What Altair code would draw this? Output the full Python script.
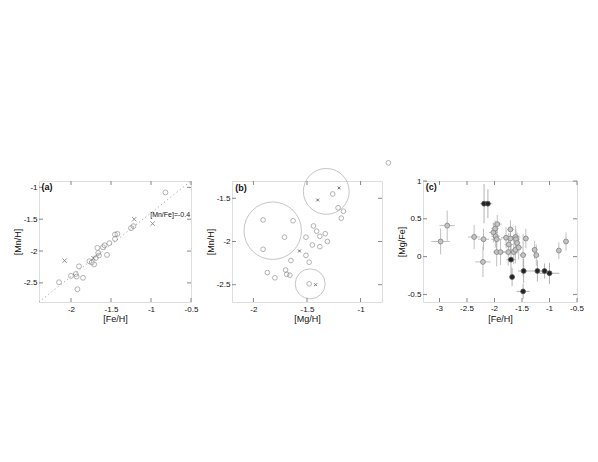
import altair as alt
import pandas as pd

# ---------------- Panel (a): [Mn/H] vs [Fe/H] ----------------
a_circ_fe = [-0.82, -1.22, -1.25, -1.42, -1.45, -1.45, -1.52, -1.58, -1.60, -1.67,
             -1.66, -1.65, -1.55, -1.69, -1.77, -1.74, -1.71, -1.90, -2.00, -1.94,
             -1.93, -1.85, -2.15, -1.92]
a_circ_mn = [-1.08, -1.61, -1.64, -1.73, -1.74, -1.81, -1.875, -1.91, -1.94, -1.95,
             -2.03, -2.07, -2.06, -2.11, -2.16, -2.18, -2.21, -2.24, -2.39, -2.36,
             -2.40, -2.42, -2.49, -2.60]
a_x_fe = [-2.08, -1.21, -0.98, -1.72]
a_x_mn = [-2.15, -1.50, -1.57, -2.11]
mnfe_line = -0.4
line_fe = [-2.4, -0.5]
a_xticks = [-2, -1.5, -1, -0.5]
a_yticks = [-1, -1.5, -2, -2.5]

# ---------------- Panel (b): [Mn/H] vs [Mg/H] ----------------
b_circ_mg = [-1.91, -1.63, -1.71, -1.91, -1.26, -1.21, -1.16, -1.18, -1.44, -1.41,
             -1.38, -1.33, -1.51, -1.31, -1.45, -1.38, -1.51, -1.48, -1.65, -1.70,
             -1.69, -1.66, -1.87, -1.80, -1.48, -0.74]
b_circ_mn = [-1.75, -1.76, -1.95, -2.09, -1.45, -1.61, -1.65, -1.73, -1.82, -1.88,
             -1.94, -1.91, -1.95, -2.00, -2.04, -2.06, -2.16, -2.24, -2.22, -2.33,
             -2.38, -2.39, -2.36, -2.42, -2.49, -1.09]
b_x_mg = [-1.20, -1.40, -1.57, -1.42]
b_x_mn = [-1.38, -1.52, -2.11, -2.50]
ring_mg = [-1.82, -1.32, -1.47]
ring_mn = [-1.875, -1.42, -2.49]
b_xticks = [-2, -1.5, -1]
b_yticks = [-1.5, -2, -2.5]

# ---------------- Panel (c): [Mg/Fe] vs [Fe/H] ----------------
c_gray_fe = [-2.98, -2.86, -2.37, -2.20, -2.21, -2.02, -1.99, -1.95, -1.98, -1.96,
             -1.96, -1.89, -1.79, -1.71, -1.74, -1.71, -1.75, -1.65, -1.62, -1.61,
             -1.62, -1.59, -1.56, -1.48, -1.43, -1.27, -1.24, -0.83, -0.70]
c_gray_mgfe = [0.20, 0.41, 0.26, 0.23, -0.07, 0.32, 0.37, 0.43, 0.27, 0.23,
               0.06, 0.06, 0.25, 0.24, 0.16, 0.36, 0.06, 0.06, 0.26, 0.23,
               0.09, 0.18, 0.12, 0.02, 0.24, 0.09, 0.02, 0.08, 0.20]
c_gray_xerr = [0.17, 0.14, 0.11, 0.10, 0.14, 0.08, 0.07, 0.08, 0.08, 0.10,
               0.07, 0.08, 0.09, 0.10, 0.08, 0.06, 0.10, 0.07, 0.09, 0.07,
               0.08, 0.06, 0.07, 0.06, 0.05, 0.05, 0.05, 0.04, 0.05]
c_gray_yerr = [0.17, 0.20, 0.16, 0.14, 0.20, 0.13, 0.11, 0.12, 0.15, 0.14,
               0.19, 0.17, 0.14, 0.16, 0.15, 0.12, 0.18, 0.16, 0.15, 0.13,
               0.18, 0.14, 0.16, 0.28, 0.13, 0.12, 0.14, 0.11, 0.12]
c_black_fe = [-2.19, -2.12, -1.70, -1.68, -1.47, -1.22, -1.09, -1.00, -1.48]
c_black_mgfe = [0.70, 0.70, -0.04, -0.27, -0.19, -0.19, -0.19, -0.22, -0.46]
c_black_xerr = [0.07, 0.08, 0.08, 0.04, 0.10, 0.15, 0.06, 0.18, 0.12]
c_black_yerr = [0.26, 0.19, 0.20, 0.12, 0.16, 0.14, 0.10, 0.14, 0.10]
c_xticks = [-3, -2.5, -2, -1.5, -1, -0.5]
c_xlabels = ["-3", "-2.5", "-2", "-1.5", "-1", "-0.5"]
c_yticks = [1, 0.5, 0, -0.5]

FONT = "Liberation Sans"
XPATH = "M -1 -1 L 1 1 M -1 1 L 1 -1"
WA, WB, WC, H = 152, 150, 154, 121


def xs(domain, ticks, title, labels=True):
    return alt.Scale(domain=domain, nice=False, zero=False), alt.Axis(
        values=ticks, labelExpr="datum.value + ''", title=title, ticks=False, domain=False,
        grid=False, labelFontSize=8, labelPadding=3, titleFontSize=9, labelOverlap=False,
        titlePadding=1 if labels else 12, labelFont=FONT, titleFont=FONT,
        titleFontWeight="normal", labels=labels,
        labelColor="#111", titleColor="#111", labelFlush=False)


def ys(domain, ticks, title):
    return alt.Scale(domain=domain, nice=False, zero=False), alt.Axis(
        values=ticks, labelExpr="datum.value + ''", title=title, ticks=False, domain=False,
        grid=False, labelFontSize=8, labelPadding=2, titleFontSize=9, labelOverlap=False,
        titlePadding=1, labelFont=FONT, titleFont=FONT, titleFontWeight="normal",
        labelColor="#111", titleColor="#111", labelFlush=False)


def panel_label(txt, x, y, xsc, ysc):
    df = pd.DataFrame({"x": [x], "y": [y], "t": [txt]})
    return alt.Chart(df).mark_text(align="left", baseline="top", fontSize=9,
                                   fontWeight="bold", font=FONT, color="#111").encode(
        x=alt.X("x:Q", scale=xsc), y=alt.Y("y:Q", scale=ysc), text="t:N")


def inner_ticks(xsc, ysc, xvals, yvals, w, h):
    dx = pd.DataFrame({"x": xvals})
    dy = pd.DataFrame({"y": yvals})
    out = []
    for yp in (0, h):
        out.append(alt.Chart(dx).mark_rule(color="#888", strokeWidth=1).encode(
            x=alt.X("x:Q", scale=xsc), y=alt.value(yp), y2=alt.value(yp + (4 if yp == 0 else -4))))
    for xp in (0, w):
        out.append(alt.Chart(dy).mark_rule(color="#888", strokeWidth=1).encode(
            y=alt.Y("y:Q", scale=ysc), x=alt.value(xp), x2=alt.value(xp + (4 if xp == 0 else -4))))
    return out


# ----- panel a -----
axs, axa = xs([-2.4, -0.5], a_xticks, "[Fe/H]")
ays, aya = ys([-2.8, -0.9], a_yticks, "[Mn/H]")
dfa_c = pd.DataFrame({"fe": a_circ_fe, "mn": a_circ_mn})
dfa_x = pd.DataFrame({"fe": a_x_fe, "mn": a_x_mn})
dfa_l = pd.DataFrame({"fe": line_fe, "mn": [v + mnfe_line for v in line_fe]})

a_line = alt.Chart(dfa_l).mark_line(color="#999", strokeDash=[1, 3], strokeWidth=1).encode(
    x=alt.X("fe:Q", scale=axs, axis=axa), y=alt.Y("mn:Q", scale=ays, axis=aya))
a_c = alt.Chart(dfa_c).mark_point(shape="circle", size=24, color="#777", strokeWidth=0.8).encode(
    x=alt.X("fe:Q", scale=axs, axis=axa), y=alt.Y("mn:Q", scale=ays, axis=aya))
a_x = alt.Chart(dfa_x).mark_point(shape=XPATH, size=18, color="#555", strokeWidth=0.9).encode(
    x=alt.X("fe:Q", scale=axs, axis=axa), y=alt.Y("mn:Q", scale=ays, axis=aya))
a_txt = alt.Chart(pd.DataFrame({"x": [-1.01], "y": [-1.44], "t": ["[Mn/Fe]=-0.4"]})).mark_text(
    align="left", baseline="middle", fontSize=7, font=FONT, color="#111").encode(
    x=alt.X("x:Q", scale=axs, axis=axa), y=alt.Y("y:Q", scale=ays, axis=aya), text="t:N")
pa = alt.layer(a_line, *inner_ticks(axs, ays, a_xticks, a_yticks, WA, H), a_c, a_x, a_txt,
               panel_label("(a)", -2.37, -0.93, axs, ays)).properties(width=WA, height=H)

# ----- panel b -----
bxs, bxa = xs([-2.2, -0.8], b_xticks, "[Mg/H]")
bys, bya = ys([-2.7, -1.3], b_yticks, "[Mn/H]")
dfb_c = pd.DataFrame({"mg": b_circ_mg, "mn": b_circ_mn})
dfb_x = pd.DataFrame({"mg": b_x_mg, "mn": b_x_mn})
dfb_r = pd.DataFrame({"mg": ring_mg, "mn": ring_mn, "k": ["big", "mid", "small"]})

b_c = alt.Chart(dfb_c).mark_point(shape="circle", size=22, color="#777", strokeWidth=0.8).encode(
    x=alt.X("mg:Q", scale=bxs, axis=bxa), y=alt.Y("mn:Q", scale=bys, axis=bya))
b_x = alt.Chart(dfb_x).mark_point(shape=XPATH, size=8, color="#333", strokeWidth=1).encode(
    x=alt.X("mg:Q", scale=bxs, axis=bxa), y=alt.Y("mn:Q", scale=bys, axis=bya))
b_r = alt.Chart(dfb_r).mark_point(shape="circle", color="#999", strokeWidth=0.8).encode(
    x=alt.X("mg:Q", scale=bxs, axis=bxa), y=alt.Y("mn:Q", scale=bys, axis=bya),
    size=alt.Size("k:N", scale=alt.Scale(domain=["big", "mid", "small"],
                                          range=[3300, 900, 230]), legend=None))
pb = alt.layer(b_r, *inner_ticks(bxs, bys, b_xticks, b_yticks, WB, H), b_c, b_x,
               panel_label("(b)", -2.17, -1.33, bxs, bys)).properties(width=WB, height=H)

# ----- panel c -----
cxs, cxa = xs([-3.3, -0.5], c_xticks, "[Fe/H]", labels=False)
cys, cya = ys([-0.6, 1.0], c_yticks, "[Mg/Fe]")
dfg = pd.DataFrame({"fe": c_gray_fe, "v": c_gray_mgfe, "xe": c_gray_xerr, "ye": c_gray_yerr})
dfk = pd.DataFrame({"fe": c_black_fe, "v": c_black_mgfe, "xe": c_black_xerr, "ye": c_black_yerr})
for d in (dfg, dfk):
    d["x0"] = d["fe"] - d["xe"]
    d["x1"] = d["fe"] + d["xe"]
    d["y0"] = d["v"] - d["ye"]
    d["y1"] = d["v"] + d["ye"]


def errs(df, col):
    h = alt.Chart(df).mark_rule(color=col, strokeWidth=0.8).encode(
        x=alt.X("x0:Q", scale=cxs, axis=cxa), x2="x1:Q", y=alt.Y("v:Q", scale=cys, axis=cya))
    v = alt.Chart(df).mark_rule(color=col, strokeWidth=0.8).encode(
        x=alt.X("fe:Q", scale=cxs, axis=cxa), y=alt.Y("y0:Q", scale=cys, axis=cya), y2="y1:Q")
    return h, v


gh, gv = errs(dfg, "#b0b0b0")
kh, kv = errs(dfk, "#a0a0a0")
c_g = alt.Chart(dfg).mark_point(shape="circle", size=24, filled=True, fill="#c4c4c4",
                                stroke="#808080", strokeWidth=0.8, opacity=1).encode(
    x=alt.X("fe:Q", scale=cxs, axis=cxa), y=alt.Y("v:Q", scale=cys, axis=cya))
c_k = alt.Chart(dfk).mark_point(shape="circle", size=24, filled=True, fill="#222222",
                                stroke="#555", strokeWidth=0.8, opacity=1).encode(
    x=alt.X("fe:Q", scale=cxs, axis=cxa), y=alt.Y("v:Q", scale=cys, axis=cya))
c_lab = alt.Chart(pd.DataFrame({"x": c_xticks, "t": c_xlabels})).mark_text(
    baseline="top", align="center", fontSize=8, font=FONT, color="#111").encode(
    x=alt.X("x:Q", scale=cxs, axis=cxa), y=alt.value(H + 3), text="t:N")
pc = alt.layer(gh, gv, kh, kv, *inner_ticks(cxs, cys, c_xticks, c_yticks, WC, H), c_g, c_k,
               c_lab, panel_label("(c)", -3.25, 0.97, cxs, cys)).properties(width=WC, height=H)

chart = alt.hconcat(pa, pb, pc, spacing=41, bounds="flush").properties(
    padding={"left": 4, "top": 150, "right": 5, "bottom": 5},
).configure_view(stroke="#999999", strokeWidth=1).configure_axis(
    labelOverlap=False).configure(background="white")

chart.save("out.html", embed_options={"renderer": "svg", "actions": False})
